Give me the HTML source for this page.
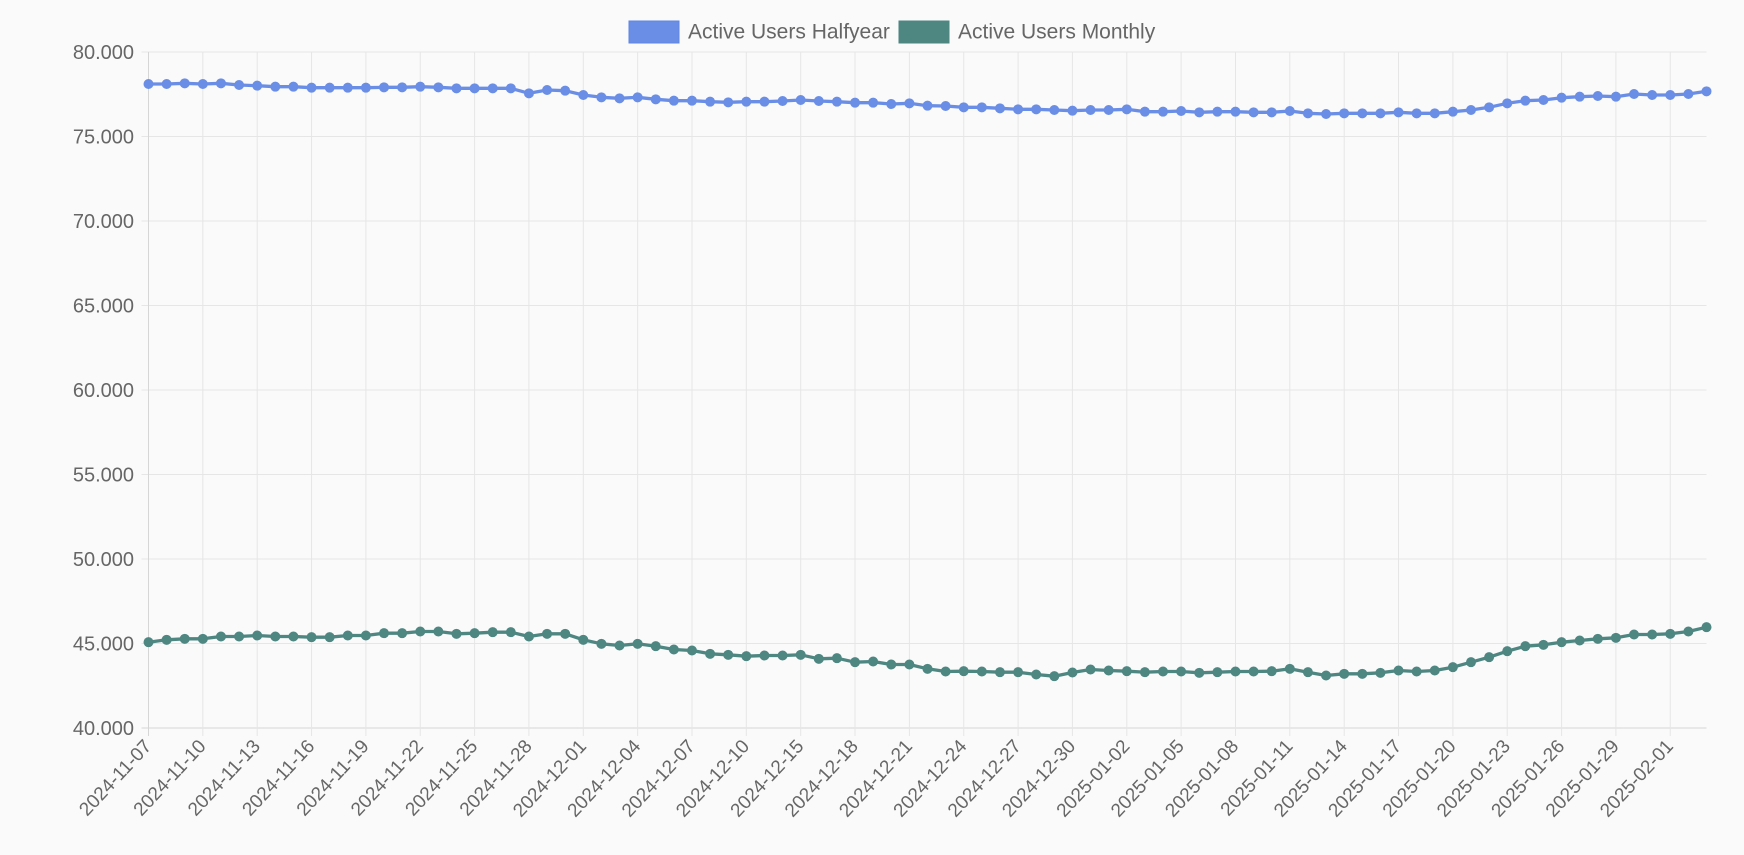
<!DOCTYPE html>
<html><head><meta charset="utf-8"><style>
html,body{margin:0;padding:0;background:#fafafa;}
svg{display:block;font-family:"Liberation Sans",Arial,sans-serif;}
</style></head><body>
<svg id="chart" width="1744" height="855" viewBox="0 0 1744 855" xmlns="http://www.w3.org/2000/svg">
<rect width="1744" height="855" fill="#fafafa"/>
<g>
<g>
<rect x="629" y="21" width="50" height="22" fill="#6a8ee6" stroke="#5f86e4"/>
<text x="688" y="38.5" font-size="21" fill="#666">Active Users Halfyear</text>
</g>
<g>
<rect x="899" y="21" width="50" height="22" fill="#4e8682" stroke="#4e8682"/>
<text x="958" y="38.5" font-size="21" fill="#666">Active Users Monthly</text>
</g>
</g>
<g id="grid"></g>
<g id="axes"></g>
<g id="series"></g>
</svg>
<script>
const yTicks = [40000,45000,50000,55000,60000,65000,70000,75000,80000];
const yTickLabels = ["40.000","45.000","50.000","55.000","60.000","65.000","70.000","75.000","80.000"];
const halfyear = [78107,78107,78146,78107,78146,78047,78008,77949,77949,77890,77890,77890,77890,77910,77910,77949,77910,77850,77850,77850,
77850,77554,77751,77712,77456,77318,77259,77318,77200,77120,77120,77061,77022,77061,77061,77101,77160,77101,77061,77002,
77002,76923,76963,76825,76805,76726,76726,76667,76607,76607,76568,76529,76568,
76568,76607,76469,76469,76509,76430,76469,76469,76430,76430,76509,76371,76331,76371,76371,76371,76430,76371,76371,76469,
76568,76726,76963,77120,77160,77298,77357,77396,77357,77515,77456,77456,77515,77673];
const monthly = [45079,45217,45276,45276,45414,45414,45473,45414,45414,45375,45375,45473,45473,45611,45611,45710,45710,45572,45611,45670,
45671,45414,45572,45572,45217,44980,44882,44980,44842,44645,44586,44389,44329,44250,44290,44290,44329,44093,44132,43895,
43935,43757,43757,43501,43343,43363,43343,43304,43304,43166,43067,43284,43462,
43402,43363,43304,43343,43343,43264,43304,43343,43343,43363,43501,43304,43107,43205,43205,43264,43402,43343,43402,43600,
43895,44191,44546,44842,44921,45079,45178,45276,45335,45533,45533,45572,45710,45966];
const dates = (function(){const out=[];let d=new Date(Date.UTC(2024,10,7));const end=Date.UTC(2025,1,3);
 while(d.getTime()<=end){const s=d.toISOString().slice(0,10);if(s!=="2024-12-11"&&s!=="2024-12-12")out.push(s);d=new Date(d.getTime()+86400000);}return out;})();

const X0=148.5, X1=1706.5, Y0=728, Y1=52, YMIN=40000, YMAX=80000;
const n=dates.length;
function xs(i){return X0+(X1-X0)*i/(n-1);}
function ys(v){return Y0-(v-YMIN)/(YMAX-YMIN)*(Y0-Y1);}
const NS="http://www.w3.org/2000/svg";
function mk(tag,attrs,parent){const e=document.createElementNS(NS,tag);for(const k in attrs)e.setAttribute(k,attrs[k]);parent.appendChild(e);return e;}
const grid=document.getElementById('grid'),axes=document.getElementById('axes'),series=document.getElementById('series');

yTicks.forEach((v,k)=>{
  const y=ys(v);
  const gl=mk('line',{x1:X0-7,x2:X1,y1:y,y2:y,stroke:k===0?'#d6d6d6':'#e6e6e6','stroke-width':1},grid);
  
  
  const t=mk('text',{x:134,y:y+7,'text-anchor':'end','font-size':20,fill:'#666'},axes);
  t.textContent=yTickLabels[k];
  
  
});
for(let i=0;i<n;i+=3){
  const x=xs(i);
  const gl=mk('line',{x1:x,x2:x,y1:Y1,y2:Y0+8,stroke:i===0?'#d6d6d6':'#e6e6e6','stroke-width':1},grid);
  
  
  const t=mk('text',{x:x+4,y:Y0+19,'text-anchor':'end','font-size':19,fill:'#666',transform:'rotate(-47 '+(x+4)+' '+(Y0+19)+')'},axes);
  t.textContent=dates[i];
  
  
}
function drawSeries(vals,color,name){
  const g=mk('g',{},series);
  
  
  const pts=vals.map((v,i)=>xs(i).toFixed(1)+','+ys(v).toFixed(1)).join(' ');
  const pl=mk('polyline',{points:pts,fill:'none',stroke:color,'stroke-width':3.3,'stroke-linejoin':'round'},g);
  
  
  vals.forEach((v,i)=>{
    const c=mk('circle',{cx:xs(i),cy:ys(v),r:5,fill:color},g);
    
    
  });
}
drawSeries(halfyear,'#6a8ee6','halfyear');
drawSeries(monthly,'#4e8682','monthly');
</script>
</body></html>
